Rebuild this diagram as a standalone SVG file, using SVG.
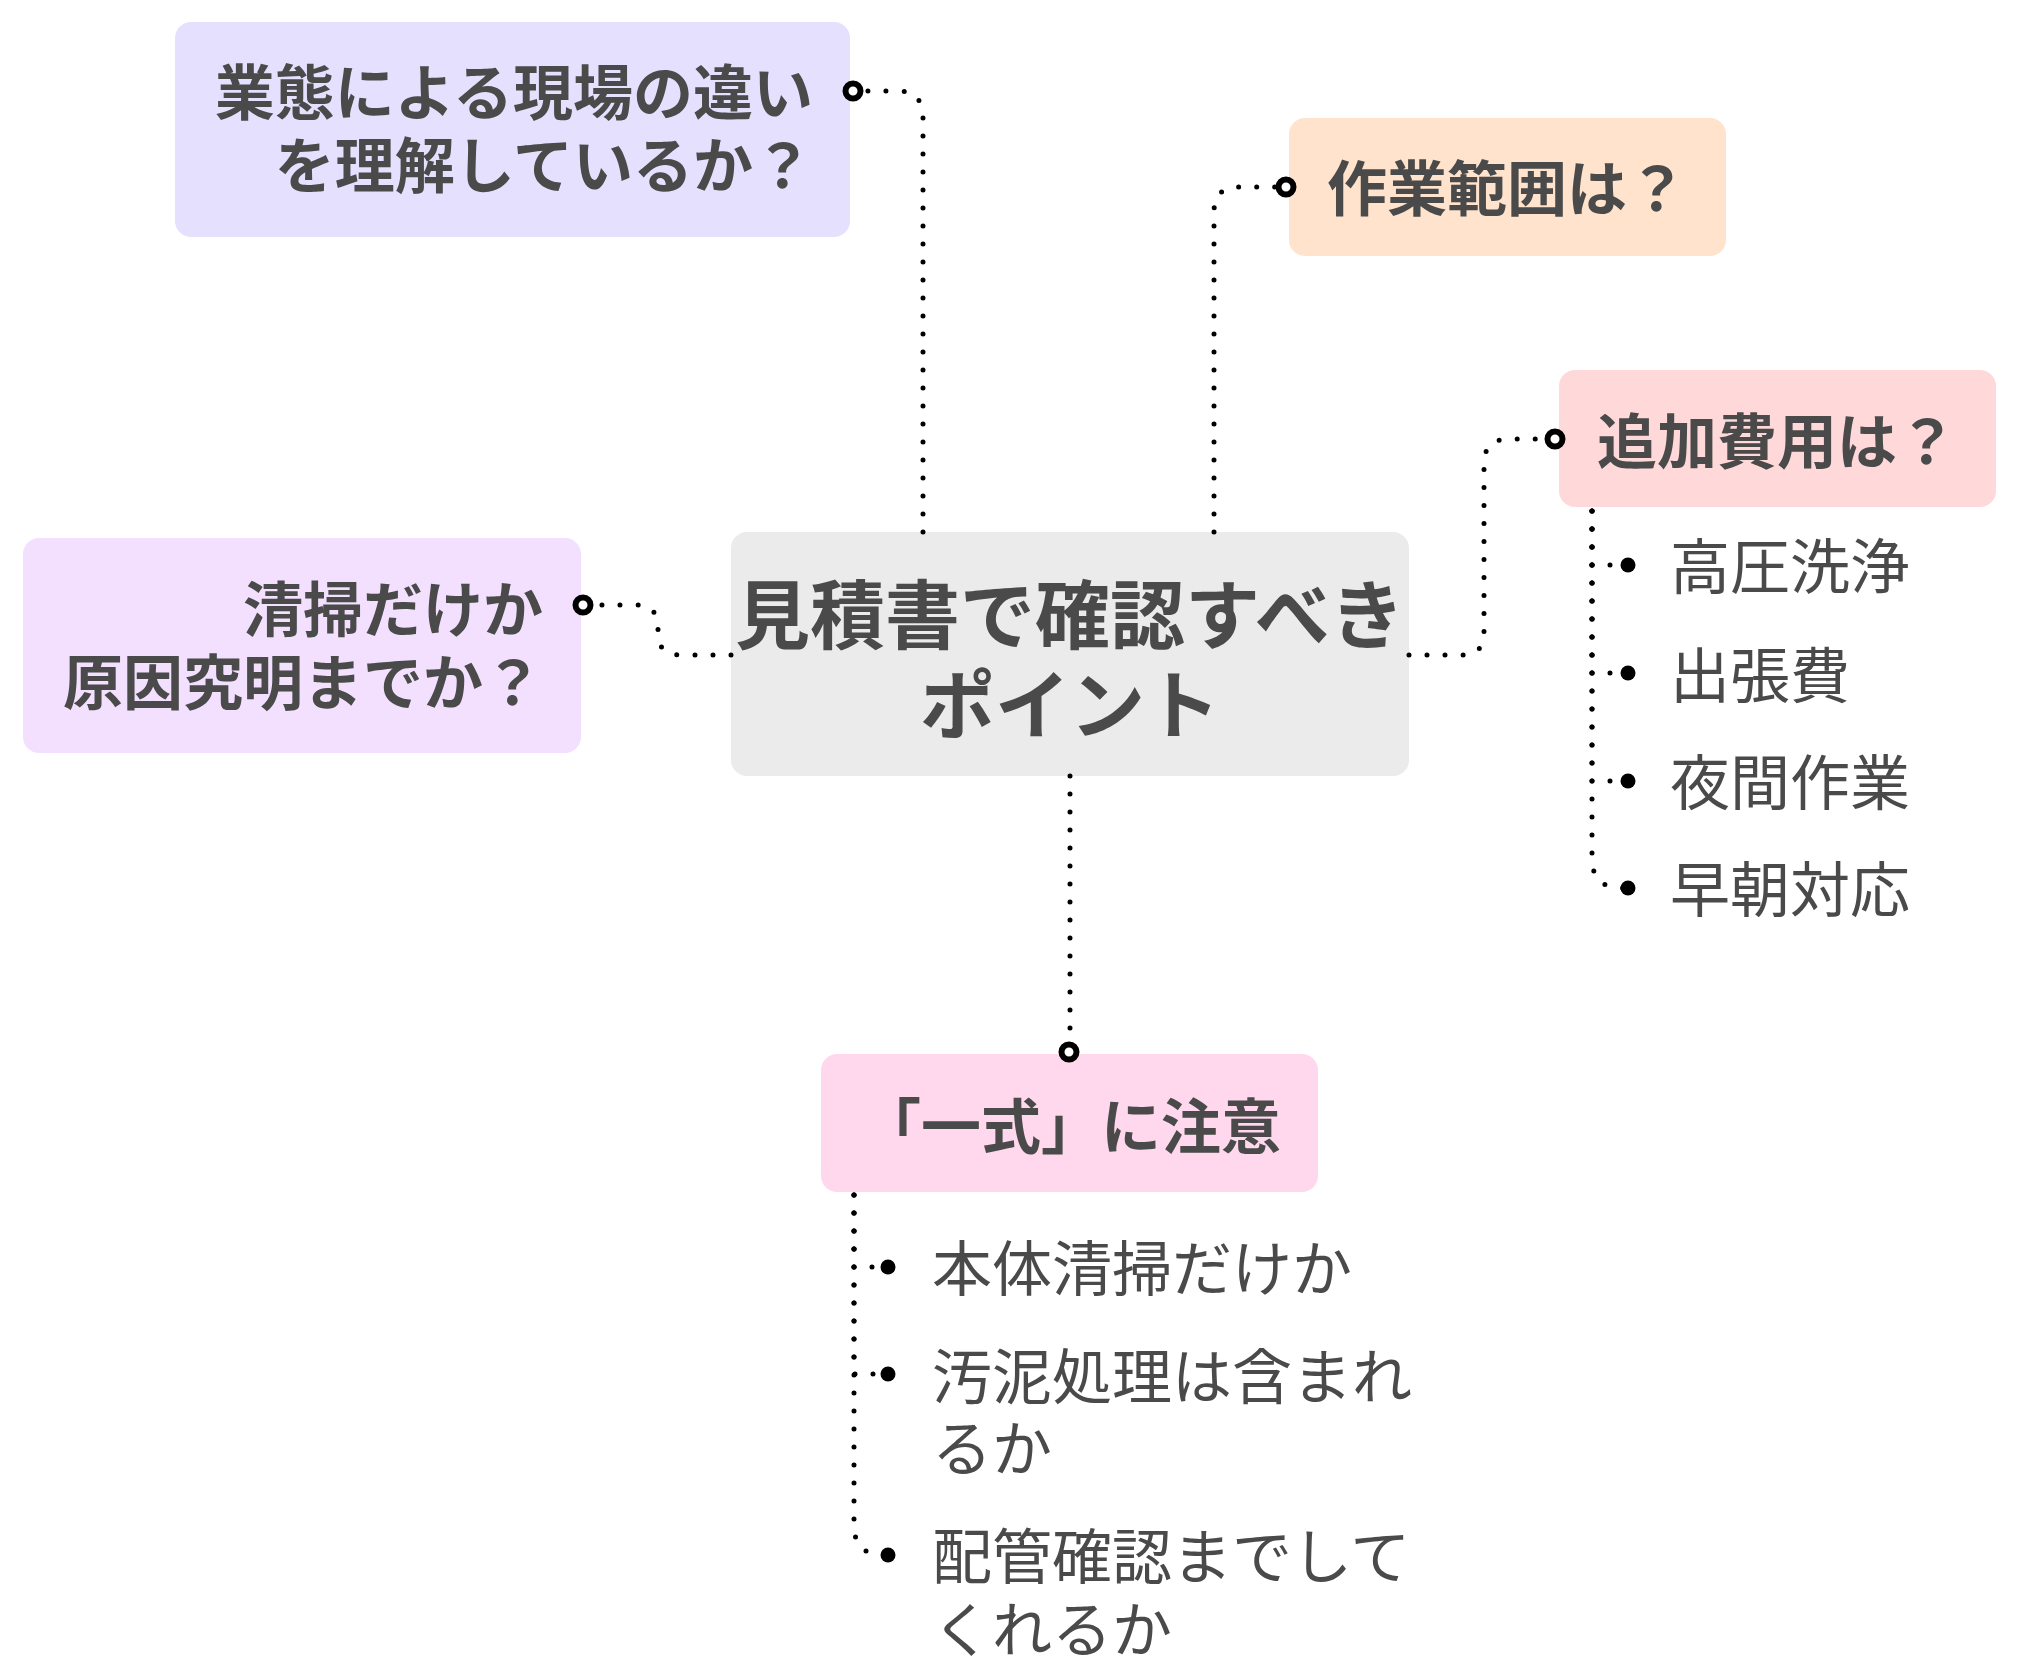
<svg xmlns="http://www.w3.org/2000/svg" width="2019" height="1672" viewBox="0 0 2019 1672">
<defs>
<style>
.box{stroke:none}
.t{font-family:"Noto Sans CJK JP","Noto Sans CJK SC",sans-serif;fill:#4a4a4a;dominant-baseline:central}
.b{font-weight:700;font-size:60px}
.c{font-weight:700;font-size:75px}
.r{font-weight:400;font-size:60px}
.dot{fill:none;stroke:#000;stroke-width:5;stroke-linecap:round;stroke-dasharray:0 18}
.end{fill:#fff;stroke:#000;stroke-width:6}
.bul{fill:#000}
</style>
</defs>
<rect width="2019" height="1672" fill="#fff"/>
<g id="center">
<rect class="box" x="731" y="532" width="678" height="244" rx="16" fill="#ebebeb"/>
<text class="t c" x="1070" y="610" text-anchor="middle">見積書で確認すべき</text>
<text class="t c" x="1070" y="700" text-anchor="middle">ポイント</text>
</g>
<g id="node-genba">
<rect class="box" x="175" y="22" width="675" height="215" rx="16" fill="#e6e0ff"/>
<text class="t b" x="813" y="88" text-anchor="end">業態による現場の違い</text>
<text class="t b" x="813" y="161" text-anchor="end">を理解しているか？</text>
</g>
<g id="node-hanni">
<rect class="box" x="1289" y="118" width="437" height="138" rx="16" fill="#ffe3cc"/>
<text class="t b" x="1327" y="184">作業範囲は？</text>
</g>
<g id="node-tsuika">
<rect class="box" x="1559" y="370" width="437" height="137" rx="16" fill="#ffd9d9"/>
<text class="t b" x="1597" y="437">追加費用は？</text>
</g>
<g id="node-seisou">
<rect class="box" x="23" y="538" width="558" height="215" rx="16" fill="#f3e0ff"/>
<text class="t b" x="543" y="605" text-anchor="end">清掃だけか</text>
<text class="t b" x="543" y="678" text-anchor="end">原因究明までか？</text>
</g>
<g id="node-isshiki">
<rect class="box" x="821" y="1054" width="497" height="138" rx="16" fill="#ffd8ee"/>
<text class="t b" x="861" y="1122">「一式」に注意</text>
</g>
<g id="item-kouatsu"><text class="t r" x="1670" y="562">高圧洗浄</text></g>
<g id="item-shucchou"><text class="t r" x="1670" y="671">出張費</text></g>
<g id="item-yakan"><text class="t r" x="1670" y="778">夜間作業</text></g>
<g id="item-souchou"><text class="t r" x="1670" y="885">早朝対応</text></g>
<g id="item-hontai"><text class="t r" x="932" y="1264">本体清掃だけか</text></g>
<g id="item-odei"><text class="t r" x="932" y="1372">汚泥処理は含まれ</text><text class="t r" x="932" y="1444">るか</text></g>
<g id="item-haikan"><text class="t r" x="932" y="1552">配管確認までして</text><text class="t r" x="932" y="1625">くれるか</text></g>
<g id="connectors">
<path class="dot" d="M923,532 V117 Q923,91 897,91 H853"/>
<path class="dot" d="M1214,532 V212 Q1214,187 1239,187 H1286"/>
<path class="dot" d="M1409,655 H1462 Q1484,655 1484,633 V464 Q1484,439 1509,439 H1555"/>
<path class="dot" d="M731,655 H680 Q658,655 658,633 V627 Q658,605 636,605 H583"/>
<path class="dot" d="M1070,776 V1052"/>
<path class="dot" d="M1592,511 V565 H1628"/>
<path class="dot" d="M1592,511 V673 H1628"/>
<path class="dot" d="M1592,511 V781 H1628"/>
<path class="dot" d="M1592,511 V858 Q1592,888 1622,888 H1628"/>
<path class="dot" d="M854,1195 V1267 H888"/>
<path class="dot" d="M854,1195 V1374 H888"/>
<path class="dot" d="M854,1195 V1525 Q854,1555 884,1555 H888"/>
<circle class="end" cx="853" cy="91" r="7.5"/>
<circle class="end" cx="1286" cy="187" r="7.5"/>
<circle class="end" cx="1555" cy="439" r="7.5"/>
<circle class="end" cx="583" cy="605" r="7.5"/>
<circle class="end" cx="1069" cy="1052" r="7.5"/>
<circle class="bul" cx="1628" cy="565" r="7.5"/>
<circle class="bul" cx="1628" cy="673" r="7.5"/>
<circle class="bul" cx="1628" cy="781" r="7.5"/>
<circle class="bul" cx="1628" cy="888" r="7.5"/>
<circle class="bul" cx="888" cy="1267" r="7.5"/>
<circle class="bul" cx="888" cy="1374" r="7.5"/>
<circle class="bul" cx="888" cy="1555" r="7.5"/>
</g>
</svg>
